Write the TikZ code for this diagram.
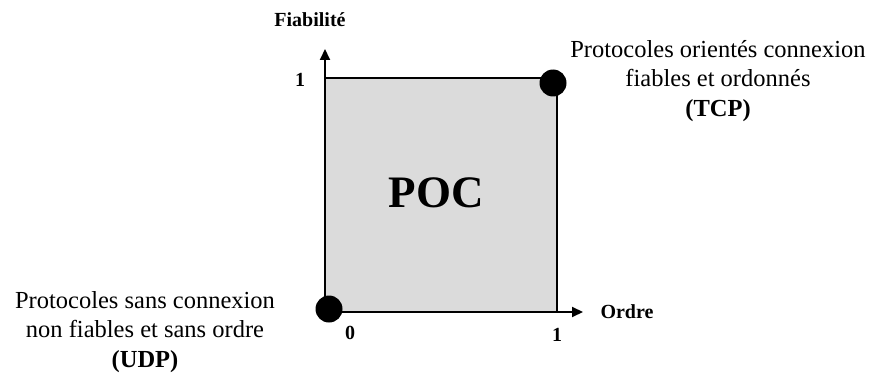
\documentclass[tikz,border=0pt]{standalone}
\usepackage{fontspec}
\setmainfont{Liberation Serif}
\usetikzlibrary{arrows.meta}
\begin{document}
\begin{tikzpicture}[x=1pt,y=1pt]
        \tikzstyle{dot} = [circle, fill=black, minimum size=27pt, inner sep=0pt]
        \tikzstyle{arrow} = [line width=2pt,-{Triangle[length=11pt,width=10pt]}]
        \tikzstyle{lbl} = [font=\fontsize{24.5}{29.5}\selectfont, align=center]
        \tikzstyle{bold} = [font=\fontsize{20}{24}\selectfont\bfseries]
        \useasboundingbox (0,0) rectangle (870,373);

                \coordinate (o) at (325,61);
                \coordinate (c) at (557,295);
                \coordinate (ytip) at (325,324);
                \coordinate (xtip) at (583,61);

                \fill[gray!28] (o) rectangle (c);
                \draw[line width=1.5pt] (o |- c) -- (c) -- (c |- o);
                \draw[arrow] (o) -- (ytip);
                \draw[arrow] (o) -- (xtip);

                \node (udp) [dot] at (329,64) {};
                \node (tcp) [dot] at (553,290) {};

                \node (poc) at (436,180) {\fontsize{45}{45}\selectfont\bfseries POC};
                \node (fiab) [bold] at (310,353) {Fiabilité};
                \node (ordre) [bold, anchor=west] at (597,61) {Ordre};
                \node (un-y) [bold] at (300,293) {1};
                \node (zero) [bold] at (350,40) {0};
                \node (un-x) [bold] at (557,38) {1};

                \node (tcp-txt) [lbl] at (718,292) {Protocoles orientés connexion\\fiables et ordonnés\\\textbf{(TCP)}};
                \node (udp-txt) [lbl] at (145,41) {Protocoles sans connexion\\non fiables et sans ordre\\\textbf{(UDP)}};

    \end{tikzpicture}
\end{document}
